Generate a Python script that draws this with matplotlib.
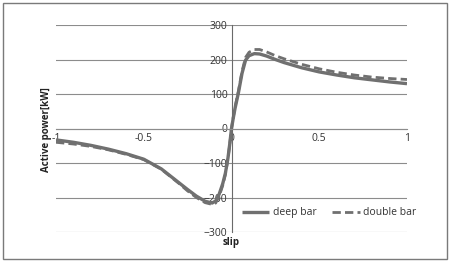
"""Active power vs slip for deep bar and double bar rotors."""

import matplotlib
matplotlib.use("Agg")
import matplotlib.pyplot as plt
from matplotlib.patches import Rectangle

# slip values
slip = [-1, -0.9, -0.8, -0.7, -0.6, -0.5, -0.4, -0.3, -0.25, -0.2, -0.15,
        -0.11, -0.09, -0.07, -0.05, -0.035, -0.02, -0.01, 0, 0.01, 0.02,
        0.04, 0.06, 0.08, 0.1, 0.13, 0.16, 0.2, 0.25, 0.3, 0.4, 0.5, 0.6,
        0.7, 0.8, 0.9, 1]

deep_bar = [-33, -40, -49, -60, -73, -89, -117, -157, -177, -196, -211,
            -216, -210, -190, -160, -130, -85, -45, 0, 30, 58,
            105, 160, 198, 211, 217, 216, 210, 200, 191, 176, 164, 155,
            147, 141, 135, 130]

double_bar = [-40, -45, -52, -62, -75, -90, -118, -159, -181, -200, -215,
              -220, -216, -196, -165, -134, -88, -46, 0, 32, 62,
              110, 166, 206, 221, 229, 229, 222, 211, 202, 186, 173, 163,
              155, 149, 145, 142]

y_ticks = [-300, -200, -100, 0, 100, 200, 300]
x_ticks = [-1, -0.5, 0, 0.5, 1]
x_labels = ["-1", "-0.5", "0", "0.5", "1"]

LINE = "#707070"
GRID = "#8c8c8c"
FONT = "Open Sans"

fig = plt.figure(figsize=(4.5, 2.65), dpi=100)
ax = fig.add_axes([56 / 450, 1 - 232 / 265, 351 / 450, 207 / 265])

ax.plot(slip, deep_bar, color=LINE, lw=2.4, label="deep bar",
        solid_capstyle="butt")
ax.plot(slip, double_bar, color=LINE, lw=2.0, ls=(0, (3, 1.5)),
        label="double bar")

ax.set_xlim(-1, 1)
ax.set_ylim(-300, 300)
ax.set_yticks(y_ticks)
ax.set_xticks(x_ticks)
ax.set_xticklabels(x_labels)
ax.grid(axis="y", color=GRID, lw=0.8)
ax.set_axisbelow(True)

for side in ("top", "right"):
    ax.spines[side].set_visible(False)
ax.spines["left"].set_position(("data", 0))
ax.spines["bottom"].set_position(("data", 0))
ax.spines["left"].set_color("#6a6a6a")
ax.spines["bottom"].set_color(GRID)
ax.spines["left"].set_linewidth(0.8)
ax.spines["bottom"].set_linewidth(0.8)
ax.tick_params(length=0, labelsize=7.5, labelcolor="#333333", pad=3)
for lab in ax.get_xticklabels() + ax.get_yticklabels():
    lab.set_family(FONT)

ax.text(0, -0.053, "slip", transform=ax.get_xaxis_transform(),
        ha="center", va="center", fontsize=7, fontweight="bold",
        family=FONT, color="#222222")
fig.text(46 / 450, 1 - 130 / 265, "Active power[kW]", rotation=90,
         ha="center", va="center", fontsize=7, fontweight="bold",
         family=FONT, color="#222222")

leg = ax.legend(loc="center", bbox_to_anchor=(0.779, 0.092), ncol=2,
                frameon=False, handlelength=2.6, columnspacing=1.5,
                handletextpad=0.35, prop={"family": FONT, "size": 7.5})
for t in leg.get_texts():
    t.set_color("#333333")

fig.patches.append(Rectangle((3 / 450, 1 - 259 / 265), 444 / 450, 256 / 265,
                             transform=fig.transFigure, fill=False,
                             edgecolor="#7a7a7a", lw=1.0))

fig.savefig("out.png", dpi=100)
